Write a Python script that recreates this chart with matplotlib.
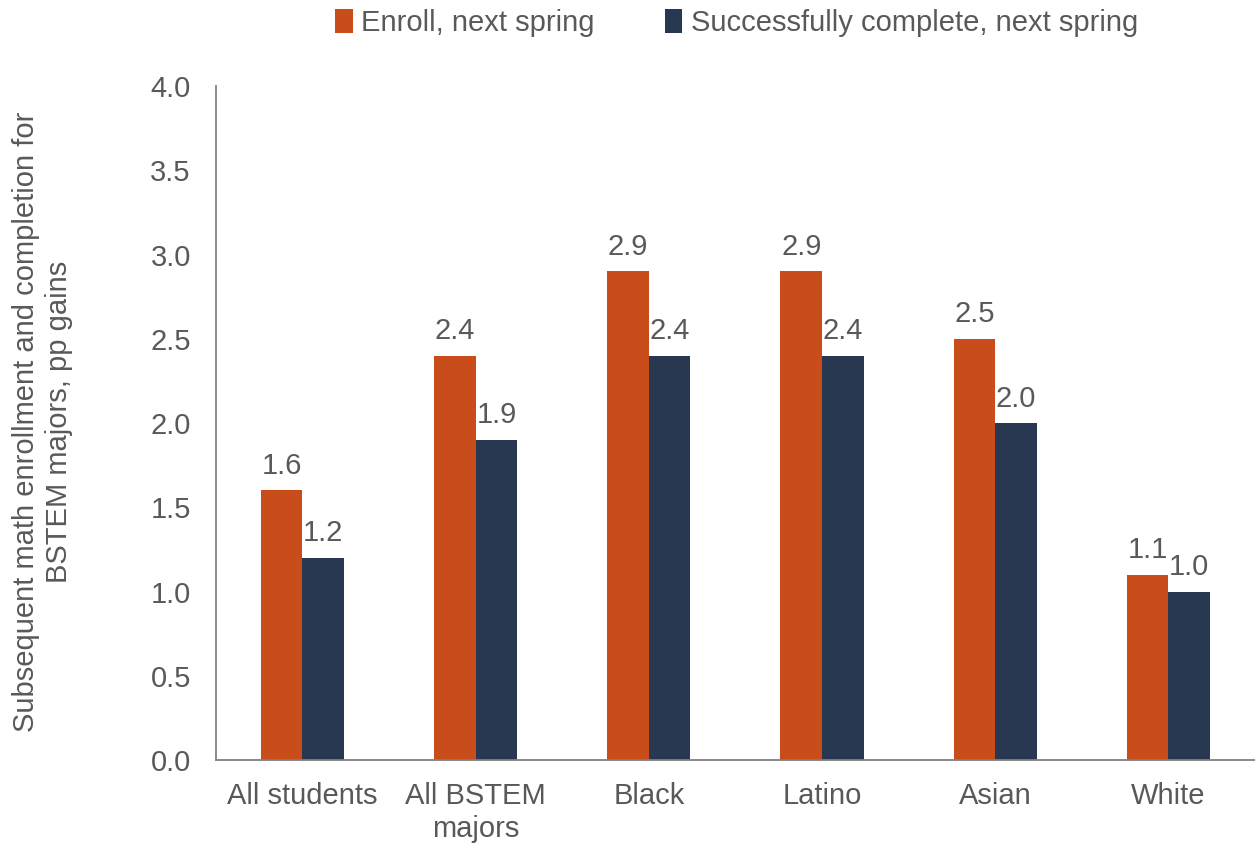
import matplotlib.pyplot as plt
import numpy as np

plt.rcParams['font.family'] = ['Liberation Sans', 'DejaVu Sans']

categories = ['All students', 'All BSTEM\nmajors', 'Black', 'Latino', 'Asian', 'White']
enroll = [1.6, 2.4, 2.9, 2.9, 2.5, 1.1]
complete = [1.2, 1.9, 2.4, 2.4, 2.0, 1.0]
series_names = ['Enroll, next spring', 'Successfully complete, next spring']

orange = '#C94C1B'
navy = '#283851'
grey = '#595959'
fs = 21

fig = plt.figure(figsize=(12.55, 8.44), dpi=100)
ax = fig.add_axes([0.172, 0.0995, 0.828, 0.7985])

x = np.arange(len(categories))
w = 0.24
b1 = ax.bar(x - w / 2, enroll, w, color=orange, label=series_names[0])
b2 = ax.bar(x + w / 2, complete, w, color=navy, label=series_names[1])

for bars in (b1, b2):
    for r in bars:
        ax.text(r.get_x() + r.get_width() / 2, r.get_height() + 0.145,
                f'{r.get_height():.1f}', ha='center', va='center',
                fontsize=fs, color=grey)

ax.set_xlim(-0.5, len(categories) - 0.5)
ax.set_ylim(0, 4.0)
yt = np.arange(0, 4.01, 0.5)
ax.set_yticks(yt)
ax.set_yticklabels([f'{v:.1f}' for v in yt])
ax.set_xticks(x)
ax.set_xticklabels(categories)
ax.tick_params(axis='both', length=0, labelsize=fs, colors=grey)
ax.tick_params(axis='y', pad=18)
ax.tick_params(axis='x', pad=16)

for s in ('top', 'right'):
    ax.spines[s].set_visible(False)
for s in ('left', 'bottom'):
    ax.spines[s].set_color('#808080')
    ax.spines[s].set_linewidth(1.3)

fig.text(0.034, 0.5, 'Subsequent math enrollment and completion for\nBSTEM majors, pp gains',
         rotation=90, ha='center', va='center', multialignment='center',
         fontsize=fs, color=grey, linespacing=1.25)

fig.legend(loc='center', bbox_to_anchor=(0.587, 0.973), ncol=2, frameon=False,
           fontsize=fs, labelcolor=grey, handlelength=0.6, handleheight=0.9,
           handletextpad=0.3, columnspacing=2.4)

fig.savefig('out.png', dpi=100)
